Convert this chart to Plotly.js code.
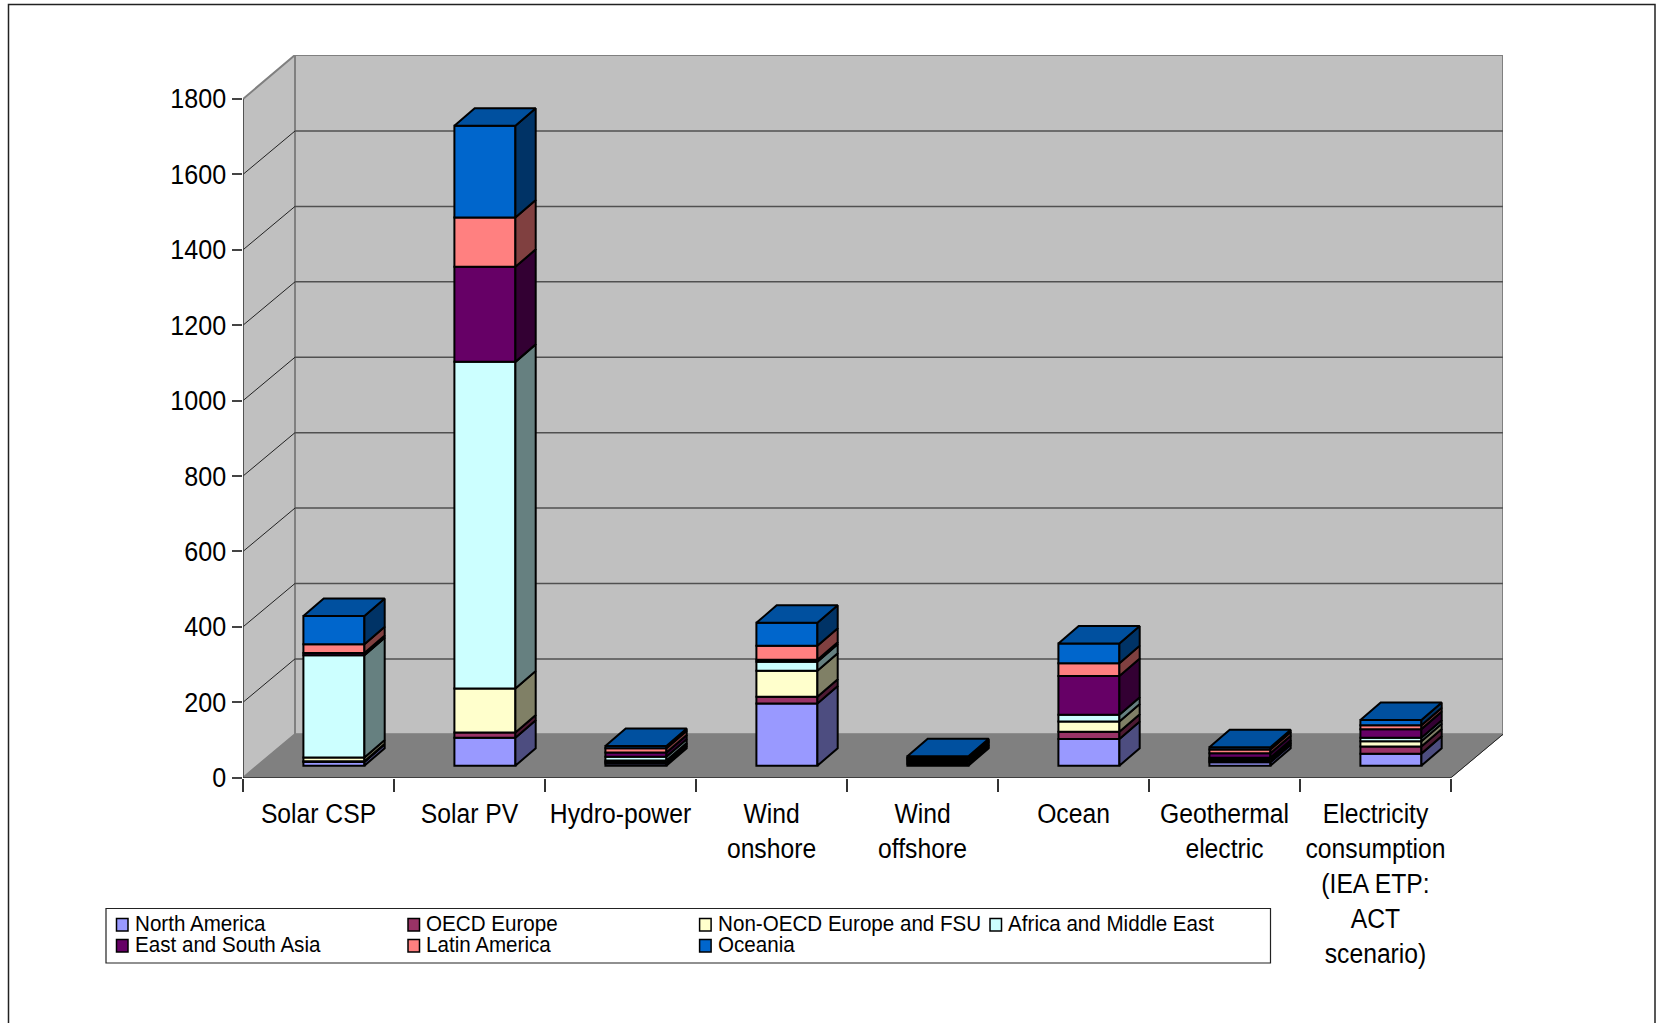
<!DOCTYPE html>
<html>
<head>
<meta charset="utf-8">
<script src="https://cdn.plot.ly/plotly-3.0.1.min.js"></script>
<style>html,body{margin:0;padding:0;background:#fff}#chart{width:1657px;height:1023px}</style>
</head>
<body>
<div id="chart"></div>
<script>
const categories = ["Solar CSP","Solar PV","Hydro-power","Wind<br>onshore","Wind<br>offshore","Ocean","Geothermal<br>electric","Electricity<br>consumption<br>(IEA ETP:<br>ACT<br>scenario)"];
const northAmerica   = [10, 74, 6, 165, 4, 71, 9, 32];
const oecdEurope     = [2, 14, 4, 18, 4, 19, 4, 19];
const nonOecdEurope  = [10, 117, 4, 69, 4, 27, 4, 14];
const africaMidEast  = [271, 866, 10, 24, 4, 18, 4, 9];
const eastSouthAsia  = [6, 252, 11, 5, 3, 103, 12, 23];
const latinAmerica   = [23, 131, 11, 37, 3, 34, 10, 10];
const oceania        = [75, 243, 6, 61, 3, 52, 6, 14];
const seriesNames = ["North America","OECD Europe","Non-OECD Europe and FSU","Africa and Middle East","East and South Asia","Latin America","Oceania"];
const seriesColors = ["#9999FF","#993366","#FFFFCC","#CCFFFF","#660066","#FF8080","#0066CC"];
const seriesValues = [northAmerica, oecdEurope, nonOecdEurope, africaMidEast, eastSouthAsia, latinAmerica, oceania];
const yTicks = [0,200,400,600,800,1000,1200,1400,1600,1800];

// page geometry
const W = 1657, H = 1023, FONT = '"Liberation Sans", Arial, sans-serif';
const left = 243, base = 777.7, catPx = 151, unitPx = 0.37706;
const wallDX = 52 / catPx, wallDY = 43.4 / unitPx;
const barDX = 20.3 / catPx, barDY = 17.5 / unitPx;
const barWidth = 61 / catPx, barShiftX = 15.4 / catPx, barShiftY = 12 / unitPx;
const xMax = categories.length + wallDX, yMax = (base - 55) / unitPx;
const px = p => p / W, py = p => 1 - p / H;
const LW = 2;

function shade(hex, f) {
  const n = parseInt(hex.slice(1), 16);
  return `rgb(${Math.round((n >> 16 & 255) * f)},${Math.round((n >> 8 & 255) * f)},${Math.round((n & 255) * f)})`;
}

const traces = [];
const centers = categories.map((_, i) => i + 0.5 + barShiftX);
const running = categories.map(() => barShiftY);

seriesValues.forEach((vals, s) => {
  const bases = running.slice();
  traces.push({type:'bar', name:seriesNames[s], x:centers, y:vals, base:bases, width:barWidth,
    marker:{color:seriesColors[s], line:{color:'#000', width:LW}}, showlegend:false});
  const sx = [], sy = [];
  vals.forEach((v, i) => {
    const xr = centers[i] + barWidth / 2, b = bases[i], t = b + v;
    sx.push(xr, xr + barDX, xr + barDX, xr, xr, null);
    sy.push(b, b + barDY, t + barDY, t, b, null);
    running[i] = t;
  });
  traces.push({type:'scatter', mode:'lines', name:seriesNames[s], x:sx, y:sy, fill:'toself',
    fillcolor:shade(seriesColors[s], 0.5), line:{color:'#000', width:LW}, showlegend:false, hoverinfo:'skip'});
});

// top faces
const tx = [], ty = [];
centers.forEach((c, i) => {
  const l = c - barWidth / 2, r = c + barWidth / 2, t = running[i];
  tx.push(l, l + barDX, r + barDX, r, l, null);
  ty.push(t, t + barDY, t + barDY, t, t, null);
});
traces.push({type:'scatter', mode:'lines', name:'Oceania top', x:tx, y:ty, fill:'toself',
  fillcolor:shade(seriesColors[6], 0.78), line:{color:'#000', width:LW}, showlegend:false, hoverinfo:'skip'});

// walls and floor
const n = categories.length, yTop = yTicks[yTicks.length - 1];
const poly = (pts) => 'M' + pts.map(p => p.join(',')).join('L') + 'Z';
const shapes = [
  {type:'path', layer:'below', xref:'x', yref:'y', path:poly([[wallDX,wallDY],[xMax,wallDY],[xMax,yMax],[wallDX,yMax]]), fillcolor:'#C0C0C0', line:{color:'#808080', width:2}},
  {type:'path', layer:'below', xref:'x', yref:'y', path:poly([[0,0],[wallDX,wallDY],[wallDX,yMax],[0,yTop]]), fillcolor:'#C0C0C0', line:{color:'#808080', width:2}},
  {type:'path', layer:'below', xref:'x', yref:'y', path:poly([[0,0],[n,0],[xMax,wallDY],[wallDX,wallDY]]), fillcolor:'#808080', line:{color:'#808080', width:1}}
];
yTicks.slice(1, -1).forEach(v => {
  shapes.push({type:'line', layer:'below', xref:'x', yref:'y', x0:wallDX, x1:xMax, y0:v+wallDY, y1:v+wallDY, line:{color:'#505050', width:1.5}});
  shapes.push({type:'line', layer:'below', xref:'x', yref:'y', x0:0, x1:wallDX, y0:v, y1:v+wallDY, line:{color:'#222', width:1}});
});
shapes.push({type:'line', layer:'below', xref:'x', yref:'y', x0:0, x1:0, y0:0, y1:yTop, line:{color:'#444', width:1.5}});
shapes.push({type:'line', layer:'below', xref:'x', yref:'y', x0:0, x1:n, y0:0, y1:0, line:{color:'#222', width:1.5}});
shapes.push({type:'line', layer:'below', xref:'x', yref:'y', x0:n, x1:xMax, y0:0, y1:wallDY, line:{color:'#222', width:1}});

// outer frame
shapes.push({type:'rect', xref:'paper', yref:'paper', x0:px(8.5), x1:px(1655), y0:py(4.5), y1:py(1040), line:{color:'#222', width:1.5}, fillcolor:'rgba(0,0,0,0)'});

// legend box, built from the series lists
shapes.push({type:'rect', xref:'paper', yref:'paper', x0:px(106), x1:px(1270.5), y0:py(908.5), y1:py(963), line:{color:'#222', width:1.2}, fillcolor:'#fff'});
const colX = [116.5, 408, 699.6, 990], rowY = [924.5, 945.5];
const annotations = [];
seriesNames.forEach((name, s) => {
  const c = s % 4, r = Math.floor(s / 4), x = colX[c], y = rowY[r];
  shapes.push({type:'rect', xref:'paper', yref:'paper', x0:px(x), x1:px(x+11.5), y0:py(y-6), y1:py(y+6.5), fillcolor:seriesColors[s], line:{color:'#000', width:1.5}});
  annotations.push({xref:'paper', yref:'paper', x:px(x+17), y:py(y-1.5), xanchor:'left', yanchor:'middle', showarrow:false, text:name, font:{family:FONT, size:21.8, color:'#000'}, borderpad:0});
});

const layout = {
  width:W, height:H, margin:{l:0,r:0,t:0,b:0,pad:0}, paper_bgcolor:'#fff', plot_bgcolor:'rgba(0,0,0,0)',
  barmode:'overlay', showlegend:false, font:{family:FONT, color:'#000'},
  xaxis:{domain:[px(left), px(left + xMax * catPx)], range:[0, xMax], showgrid:false, zeroline:false, showline:false,
    tickmode:'array', tickvals:categories.map((_, i) => i + 0.5), ticktext:categories, ticks:'', tickangle:0,
    ticklabelstandoff:17, tickfont:{family:FONT, size:27, color:'#000'},
    minor:{tickmode:'array', tickvals:categories.map((_, i) => i).concat([n]), ticks:'outside', ticklen:13, tickwidth:1.5, tickcolor:'#333', showgrid:false}},
  yaxis:{domain:[py(base), py(55)], range:[0, yMax], showgrid:false, zeroline:false, showline:false,
    tickmode:'array', tickvals:yTicks, ticktext:yTicks.map(String), ticks:'outside', ticklen:10.5, tickwidth:1.5, tickcolor:'#444',
    tickfont:{family:FONT, size:27, color:'#000'}},
  shapes, annotations
};

// the reference's type is slightly condensed: squeeze each label about its anchor
function squeeze(sel, anchor, f) {
  document.querySelectorAll(sel).forEach(t => {
    const b = t.getBBox();
    const ax = anchor === 'left' ? b.x : anchor === 'right' ? b.x + b.width : b.x + b.width / 2;
    const old = t.getAttribute('transform') || '';
    t.setAttribute('transform', `${old} translate(${ax},0) scale(${f},1) translate(${-ax},0)`);
  });
}
Plotly.newPlot('chart', traces, layout, {displayModeBar:false, responsive:false}).then(() => {
  squeeze('.xtick text', 'center', 0.915);
  squeeze('.ytick text', 'right', 0.93);
  squeeze('.annotation-text', 'left', 0.945);
});
</script>
</body>
</html>
